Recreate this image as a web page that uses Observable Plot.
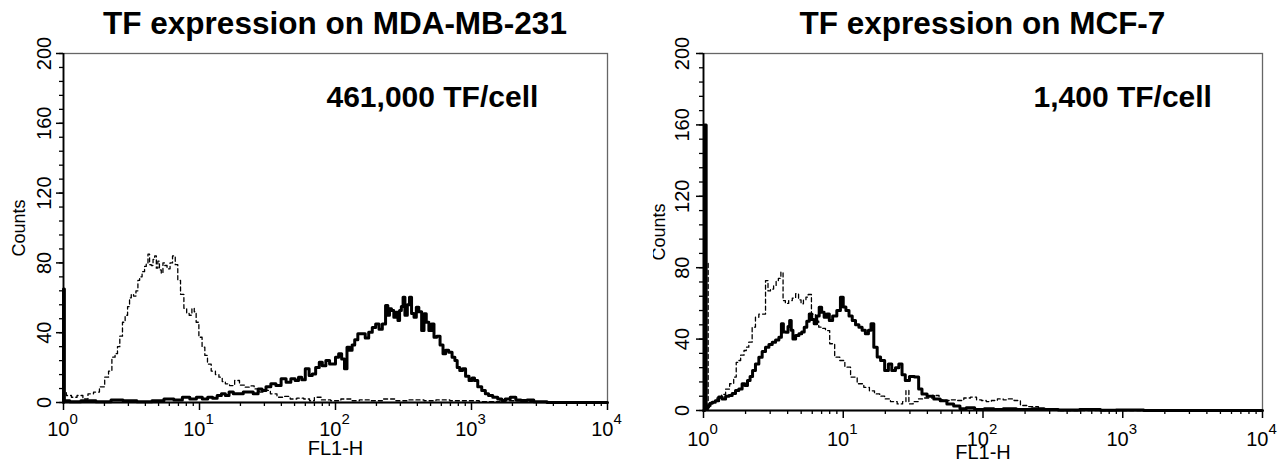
<!DOCTYPE html>
<html><head><meta charset="utf-8">
<script src="https://cdn.jsdelivr.net/npm/d3@7"></script>
<script src="https://cdn.jsdelivr.net/npm/@observablehq/plot@0.6"></script>
<style>
body{margin:0;background:#fff;}
#wrap{position:relative;width:1280px;height:465px;overflow:hidden;font-family:"Liberation Sans",Arial,sans-serif;background:#fff;}
.title{position:absolute;top:8px;line-height:30px;font-size:31.5px;font-weight:bold;text-align:center;white-space:nowrap;color:#000;z-index:2;}
.panel{position:absolute;top:30px;}
</style></head>
<body><div id="wrap"></div>
<script>
// ---- text ----
const titles = ["TF expression on MDA-MB-231", "TF expression on MCF-7"];
const annotations = ["461,000 TF/cell", "1,400 TF/cell"];
const xLabel = "FL1-H";
const yLabel = "Counts";
// ---- ticks ----
const xDecades = [1, 10, 100, 1000, 10000];
const xExponents = ["0", "1", "2", "3", "4"];
const yMajor = [0, 40, 80, 120, 160, 200];
const yMinorStep = 8;

// ---- data: [FL1-H, counts] ----
const mdaTF = [[1,0],[1,65],[1.03,1],[1.2,0.5],[1.5,1],[2,0.5],[2.5,1.5],[3,1],[4,0.5],[5,1],[6,2],[7,1.5],[8,3],[9,2],[10,3],[11,2],[12,3],[13,2.5],[14,4],[15,5],[16,4],[17,6],[18.5,5],[20,5],[22,6],[23.7,6],[26,5],[28,7.8],[29.7,6.9],[32,9],[35,10.7],[38,9.7],[41.7,13.6],[45,11.6],[49,13.6],[52,12.6],[55,14.5],[58,13],[62,19.3],[66,15.5],[69,16.4],[74,20],[78,23],[82,21],[88,24],[93,22],[97,22],[103,26],[108,28],[114,25],[119,19.3],[124,31.7],[130,30],[135,33],[142,36],[150,39.4],[161,39.4],[170,37],[181,40.3],[192,43],[203,45],[215,42],[227,45],[240,55.6],[245,50],[254,53.7],[262,52.7],[275,48.9],[284,51.7],[292,47],[300,52.7],[310,55],[318,60.3],[330,50],[345,56],[355,60.3],[370,51],[386,48.9],[400,54.6],[420,52],[440,41.3],[455,50.8],[475,46],[497,41.3],[520,45],[540,37.4],[570,38],[605,33],[630,28],[660,30],[700,28.8],[740,26],[770,24],[800,20],[840,18.3],[880,19.3],[930,15],[990,12.6],[1030,14],[1075,12.6],[1150,9],[1230,6.9],[1300,5],[1370,4],[1500,3],[1620,2],[1720,1.1],[1820,2],[2040,3],[2200,1.5],[2430,1.1],[2700,1.5],[3050,0.5],[3400,0.5],[3800,0],[10000,0]];
const mdaCtrl = [[1,0],[1,6],[1.1,4],[1.19,3],[1.33,4],[1.45,2],[1.58,5],[1.75,6],[1.93,9],[2.09,14.5],[2.2,18],[2.34,26],[2.45,28],[2.54,32],[2.65,38],[2.78,46],[2.9,50],[3.02,55],[3.1,60],[3.2,62],[3.35,61],[3.47,64],[3.58,70],[3.68,72],[3.89,75],[4.0,78],[4.12,80],[4.24,85],[4.35,79],[4.49,78.5],[4.62,82],[4.75,84],[4.88,77],[5.0,81],[5.15,76],[5.32,74],[5.45,80],[5.6,78.5],[5.95,76.6],[6.2,80],[6.47,84],[6.8,79],[7.05,70],[7.46,62],[7.9,54],[8.2,51],[8.59,50],[9.0,54],[9.3,52],[9.6,46],[10.2,37.4],[10.7,31.7],[11.2,27],[11.7,22],[12.7,18],[13.5,16],[14.3,14.5],[15.1,12],[15.9,10.7],[17.4,9.7],[18.9,12.6],[20.5,10],[22.4,8.8],[24,9.5],[26.5,7.8],[29,6],[31.5,6.9],[35,5],[39.4,3],[44,3.5],[49,2],[55,2.5],[62,2],[67,1],[73,3],[85,1.5],[100,1],[120,2],[140,1],[160,1.5],[200,1],[250,2],[300,1],[400,1.5],[500,1],[600,1.5],[800,1],[1000,1],[1300,0.5],[2000,1],[3000,0.5],[5000,0.5],[10000,0]];
const mcfTF = [[1,0],[1.03,160],[1.06,1],[1.08,2],[1.1,2.8],[1.13,4],[1.18,4.6],[1.25,5.5],[1.32,7.5],[1.4,6.5],[1.48,8],[1.56,8.4],[1.65,9.5],[1.74,11.2],[1.84,12],[1.94,15],[2.02,14],[2.11,16.8],[2.2,19],[2.29,22.4],[2.42,26],[2.56,29.9],[2.7,33],[2.86,35.5],[3.02,37],[3.19,38.3],[3.37,39.5],[3.56,41],[3.66,48.6],[3.8,44],[3.97,43.9],[4.08,47],[4.19,50.4],[4.3,45],[4.43,40],[4.7,42],[4.94,43],[5.15,44],[5.37,46.7],[5.6,50],[5.83,54],[6.07,51],[6.32,48.6],[6.6,53],[6.86,57.9],[7.15,55],[7.45,52.3],[7.8,54],[8.1,50.4],[8.7,53],[9.3,56],[9.8,63.5],[10.2,58],[10.7,56],[11.3,53],[11.9,50.4],[12.6,48],[13.3,46.7],[14,45],[14.8,43],[15.5,45],[16.1,48.6],[17,35.5],[18,30],[19,28],[20.6,22.4],[21.5,26],[23,22.4],[24.3,24],[25.7,26],[27,20],[28.6,16.8],[31,19],[33.8,18.7],[35.5,12],[37.7,9.3],[42,8],[47,6.5],[52,5.5],[58.5,3.7],[65,2.5],[72,1],[80,1.5],[95,0.5],[110,1],[130,0.5],[150,1],[200,0.5],[250,1],[300,0.5],[400,0.3],[600,0.5],[800,0.2],[1000,0.3],[2000,0],[10000,0]];
const mcfCtrl = [[1,0],[1.07,83],[1.09,3],[1.15,4],[1.2,5],[1.3,7],[1.4,9],[1.48,12],[1.6,15],[1.69,18.7],[1.74,27],[1.79,28],[1.9,31],[2.0,33.6],[2.05,35.5],[2.17,38.3],[2.29,46.7],[2.42,52.3],[2.56,54],[2.7,54],[2.86,72.8],[2.93,67],[3.1,68],[3.25,70],[3.37,72.8],[3.5,74],[3.66,77.5],[3.76,61.6],[3.95,60],[4.19,61.6],[4.45,63],[4.68,65.4],[4.9,62],[5.08,59.8],[5.3,62],[5.52,63.5],[5.7,65],[6.15,54],[6.5,50],[6.86,46.7],[7.25,46],[7.68,44.8],[8.33,37.4],[9.05,29.9],[9.85,28],[10.7,24.3],[11.9,18.7],[13.3,15],[14.8,13],[16,11],[17.5,9.3],[19,8],[20.6,6.5],[23,5],[25.7,3.7],[27.5,5],[28.7,11.2],[30.3,3.7],[33,5],[35.8,6.5],[40,7],[47,8.4],[50,6],[55,5.6],[62,6],[69,5.6],[77,7],[86,7.5],[94,6],[101,5.6],[110,5],[120,5.6],[134,6.5],[145,6],[158,6.5],[176,5.6],[195,2.8],[230,2.2],[270,1],[320,0.5],[400,0],[10000,0]];

const xMinor = xDecades.slice(0, -1).flatMap(d => [2,3,4,5,6,7,8,9].map(k => k * d));
const yMinor = d3.range(0, 201, yMinorStep);

function panel(cfg) {
  return Plot.plot({
    width: cfg.width, height: 435,
    marginLeft: cfg.ml, marginRight: cfg.mr, marginTop: 23, marginBottom: cfg.mb,
    style: {fontFamily: "Liberation Sans, Arial, sans-serif", color: "#000", overflow: "hidden", background: "transparent"},
    x: {type: "log", domain: [1, 10000]},
    y: {domain: [0, 200]},
    marks: [
      Plot.frame({stroke: "#666", strokeWidth: 1.3}),
      Plot.axisX({ticks: xMinor, tickSize: 4, tickFormat: () => "", label: null, strokeWidth: 1.3}),
      Plot.axisX({ticks: xDecades, tickSize: 8, tickFormat: () => "", label: null, strokeWidth: 1.5}),
      Plot.axisY({ticks: yMinor, tickSize: 4, tickFormat: () => "", label: null, strokeWidth: 1.3}),
      Plot.axisY({ticks: yMajor, tickSize: 7, tickFormat: () => "", label: null, strokeWidth: 1.5}),
      Plot.ruleY([0], {stroke: "#000", strokeWidth: 2}),
      Plot.ruleX([1], {stroke: "#000", strokeWidth: 1.8}),
      Plot.line(cfg.ctrl, {x: d => d[0], y: d => d[1], curve: "step", stroke: "#000", strokeWidth: 1.3, strokeDasharray: "4,3"}),
      Plot.line(cfg.tf, {x: d => d[0], y: d => d[1], curve: "step", stroke: "#000", strokeWidth: 3}),
      Plot.text(yMajor, {frameAnchor: "left", y: d => d, text: d => String(d), rotate: -90, textAnchor: "middle", lineAnchor: "bottom", dx: -cfg.ytp, fontSize: 20, fill: "#000"}),
      Plot.text([yLabel], {frameAnchor: "left", rotate: -90, textAnchor: "middle", lineAnchor: "bottom", dx: -39, fontSize: 18, fill: "#000"}),
      Plot.text(xDecades, {x: d => d, frameAnchor: "bottom", text: () => "10", textAnchor: "end", lineAnchor: "bottom", dx: 6, dy: cfg.xb, fontSize: 20, fill: "#000"}),
      Plot.text(xDecades, {x: d => d, frameAnchor: "bottom", text: (d, i) => xExponents[i], textAnchor: "start", lineAnchor: "bottom", dx: 6, dy: cfg.xb - 12, fontSize: 15, fill: "#000"}),
      Plot.text([xLabel], {frameAnchor: "bottom", lineAnchor: "bottom", dy: cfg.lb, fontSize: 20, fill: "#000"}),
      Plot.text([cfg.note], {frameAnchor: "top-left", textAnchor: "start", lineAnchor: "top", dx: cfg.ndx, dy: 32, fontSize: 30, fontWeight: "bold", fill: "#000"})
    ]
  });
}

const wrap = document.getElementById("wrap");
const p1 = panel({width: 640, ml: 63, mr: 33, mb: 63, tf: mdaTF, ctrl: mdaCtrl, note: annotations[0], ndx: 263, ytp: 13, xb: 33, lb: 52});
p1.classList.add("panel"); p1.style.left = "0px";
wrap.appendChild(p1);
const p2 = panel({width: 627, ml: 50, mr: 18, mb: 55, tf: mcfTF, ctrl: mcfCtrl, note: annotations[1], ndx: 330, ytp: 15, xb: 35, lb: 48});
p2.classList.add("panel"); p2.style.left = "653px";
wrap.appendChild(p2);

function addTitle(text, left, width) {
  const d = document.createElement("div");
  d.className = "title"; d.textContent = text;
  d.style.left = left + "px"; d.style.width = width + "px";
  wrap.appendChild(d);
}
addTitle(titles[0], 63, 544);
addTitle(titles[1], 703, 559);
</script>
</body></html>
